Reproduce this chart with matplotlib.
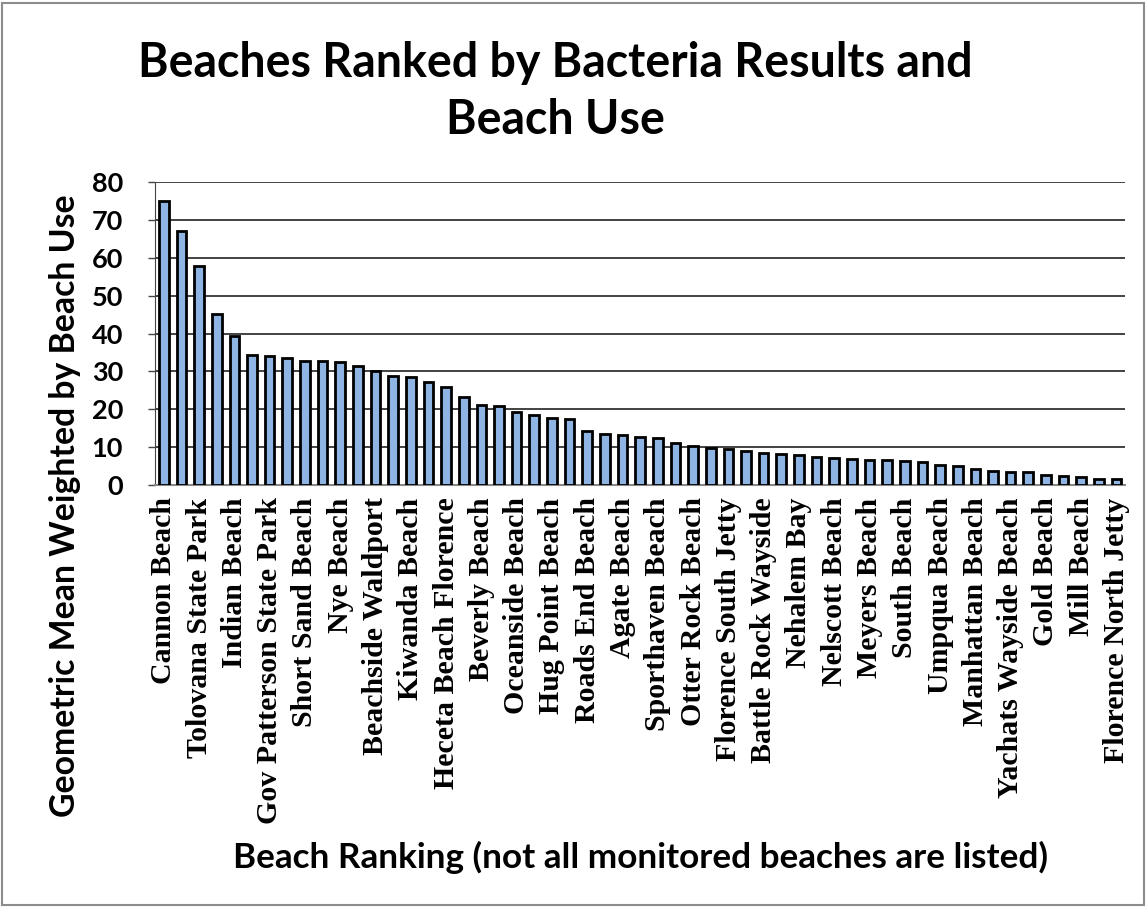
import matplotlib
matplotlib.use("Agg")
import matplotlib.pyplot as plt
from matplotlib.patches import Rectangle

# geometric mean weighted by beach use, in ranking order (55 beaches)
values = [
    75.0, 67.0, 57.8, 45.2, 39.3, 34.4, 34.1, 33.4, 32.8, 32.7,
    32.6, 31.4, 30.2, 28.7, 28.6, 27.1, 25.8, 23.2, 21.0, 20.8,
    19.3, 18.6, 17.6, 17.5, 14.3, 13.4, 13.3, 12.7, 12.4, 11.0,
    10.4, 9.7, 9.6, 9.0, 8.4, 8.3, 7.9, 7.5, 7.0, 6.8,
    6.7, 6.5, 6.3, 6.0, 5.2, 5.1, 4.2, 3.8, 3.5, 3.3,
    2.6, 2.4, 2.0, 1.7, 1.5,
]

# only every other beach carries a label
labels = [
    "Cannon Beach", "Tolovana State Park", "Indian Beach",
    "Gov Patterson State Park", "Short Sand Beach", "Nye Beach",
    "Beachside Waldport", "Kiwanda Beach", "Heceta Beach Florence",
    "Beverly Beach", "Oceanside Beach", "Hug Point Beach", "Roads End Beach",
    "Agate Beach", "Sporthaven Beach", "Otter Rock Beach",
    "Florence South Jetty", "Battle Rock Wayside", "Nehalem Bay",
    "Nelscott Beach", "Meyers Beach", "South Beach", "Umpqua Beach",
    "Manhattan Beach", "Yachats Wayside Beach", "Gold Beach", "Mill Beach",
    "Florence North Jetty",
]

yticks = [0, 10, 20, 30, 40, 50, 60, 70, 80]

SANS = ["Lato", "DejaVu Sans"]
SERIF = ["Liberation Serif", "DejaVu Serif"]

fig = plt.figure(figsize=(11.47, 9.07), dpi=100)
ax = fig.add_axes([0.1351, 0.4653, 0.846, 0.334])

x = list(range(len(values)))
ax.bar(x, values, width=0.55, color="#8db4e2", edgecolor="black",
       linewidth=2.0, zorder=3)

ax.set_xlim(-0.5, len(values) - 0.5)
ax.set_ylim(0, 80)
ax.set_yticks(yticks)
ax.set_yticklabels([str(v) for v in yticks], fontsize=19.5, fontweight="bold",
                   family=SANS)
ax.yaxis.grid(True, color="#222222", linewidth=1.2, zorder=0)
ax.set_axisbelow(True)

ax.set_xticks(x[::2])
ax.set_xticklabels(labels, rotation=90, fontsize=21.5, fontweight="bold",
                   family=SERIF, va="top", ha="center")
ax.tick_params(axis="x", length=0, pad=9)
ax.tick_params(axis="y", length=5, width=1, color="#444444", pad=18)

for side in ("top", "right"):
    ax.spines[side].set_visible(False)
ax.spines["left"].set_color("#444444")
ax.spines["bottom"].set_color("#888888")
ax.spines["bottom"].set_linewidth(1.5)

# axis titles placed in figure coordinates
fig.text(0.057, 0.442, "Geometric Mean Weighted by Beach Use", rotation=90,
         ha="center", va="center", fontsize=24.3, fontweight="bold",
         family=SANS)
fig.text(0.484, 0.899, "Beaches Ranked by Bacteria Results and\nBeach Use",
         ha="center", va="center", fontsize=33.5, fontweight="bold",
         family=SANS, linespacing=1.38)
fig.text(0.558, 0.055, "Beach Ranking (not all monitored beaches are listed)",
         ha="center", va="center", fontsize=25.3, fontweight="bold",
         family=SANS)

# thin frame round the chart area
fig.patches.append(Rectangle((0.002, 0.002), 0.995, 0.995,
                             transform=fig.transFigure, fill=False,
                             edgecolor="#8c8c8c", linewidth=1.5))

fig.savefig("out.png", dpi=100)
